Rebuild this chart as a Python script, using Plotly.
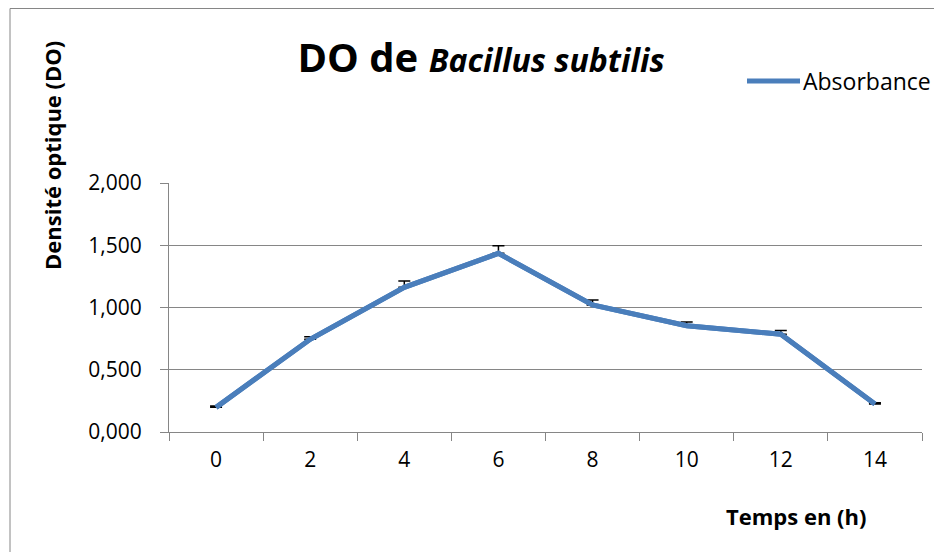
import plotly.graph_objects as go

# temps (h) and densité optique
hours = ["0", "2", "4", "6", "8", "10", "12", "14"]
absorbance = [0.198, 0.745, 1.162, 1.435, 1.020, 0.854, 0.785, 0.225]
err_plus = [0.010, 0.020, 0.050, 0.060, 0.040, 0.030, 0.030, 0.010]

LINE_COLOR = "#4a7ebb"
AXIS_GRAY = "#868686"
FONT = "Open Sans"

# the page body adds an 8px margin, so the figure is drawn 8px smaller/shifted
OFF = 8
W, H = 942 - OFF, 552 - OFF
PLOT_L, PLOT_R, PLOT_T, PLOT_B = 169 - OFF, 922 - OFF, 183 - OFF, 432 - OFF

fig = go.Figure()

# error bars first so the line sits on top of them (like Excel)
fig.add_trace(
    go.Scatter(
        x=hours,
        y=absorbance,
        mode="lines",
        line=dict(color=LINE_COLOR, width=5),
        error_y=dict(
            type="data",
            symmetric=False,
            array=err_plus,
            arrayminus=[0] * len(err_plus),
            color="black",
            thickness=1.5,
            width=6,
        ),
        showlegend=False,
    )
)
fig.add_trace(
    go.Scatter(
        x=hours,
        y=absorbance,
        mode="lines",
        line=dict(color=LINE_COLOR, width=5),
        name="Absorbance",
        showlegend=False,
    )
)


# page pixel -> paper coordinates
def px_x(px):
    return (px - OFF - PLOT_L) / (PLOT_R - PLOT_L)


def px_y(py):
    return (PLOT_B - (py - OFF)) / (PLOT_B - PLOT_T)


fig.update_layout(
    width=W,
    height=H,
    autosize=False,
    margin=dict(l=PLOT_L, r=W - PLOT_R, t=PLOT_T, b=H - PLOT_B),
    paper_bgcolor="white",
    plot_bgcolor="white",
    separators=", ",
    font=dict(family=FONT, size=21, color="black"),
    title=dict(
        text="<b>DO de </b><span style='font-size:32px'><b><i>Bacillus subtilis</i></b></span>",
        font=dict(family=FONT, size=40, color="black"),
        x=(481 - OFF) / W,
        xanchor="center",
        y=1 - (58 - OFF) / H,
        yanchor="middle",
    ),
    xaxis=dict(
        type="category",
        categoryorder="array",
        categoryarray=hours,
        range=[-0.5, len(hours) - 0.5],
        tickson="boundaries",
        ticks="outside",
        ticklen=8,
        tickcolor=AXIS_GRAY,
        tickwidth=1,
        showgrid=False,
        showline=True,
        linecolor=AXIS_GRAY,
        linewidth=1,
        ticklabelstandoff=9,
        tickfont=dict(size=21),
    ),
    yaxis=dict(
        range=[0, 2],
        dtick=0.5,
        tick0=0,
        tickformat=".3f",
        ticks="outside",
        ticklen=8,
        tickcolor=AXIS_GRAY,
        showgrid=True,
        gridcolor=AXIS_GRAY,
        gridwidth=1,
        zeroline=False,
        showline=True,
        linecolor=AXIS_GRAY,
        linewidth=1,
        ticklabelstandoff=14,
        tickfont=dict(size=21),
    ),
    shapes=[
        # outer chart border (only left/top visible in the frame)
        dict(
            type="rect", xref="paper", yref="paper",
            x0=px_x(10), x1=px_x(960), y0=px_y(570), y1=px_y(8.5),
            line=dict(color=AXIS_GRAY, width=1), layer="below",
        ),
        # legend line sample
        dict(
            type="line", xref="paper", yref="paper",
            x0=px_x(747), x1=px_x(800), y0=px_y(81), y1=px_y(81),
            line=dict(color=LINE_COLOR, width=5),
        ),
    ],
    annotations=[
        dict(
            text="Absorbance", xref="paper", yref="paper",
            x=px_x(801), y=px_y(81), xanchor="left", yanchor="middle",
            showarrow=False, font=dict(size=23),
        ),
        dict(
            text="<b>Densité optique (DO)</b>", xref="paper", yref="paper",
            x=px_x(52), y=px_y(156), xanchor="center", yanchor="middle",
            textangle=-90, showarrow=False, font=dict(size=22),
        ),
        dict(
            text="<b>Temps en (h)</b>", xref="paper", yref="paper",
            x=px_x(796), y=px_y(516), xanchor="center", yanchor="middle",
            showarrow=False, font=dict(size=22),
        ),
    ],
)

fig.write_html("out.html")
